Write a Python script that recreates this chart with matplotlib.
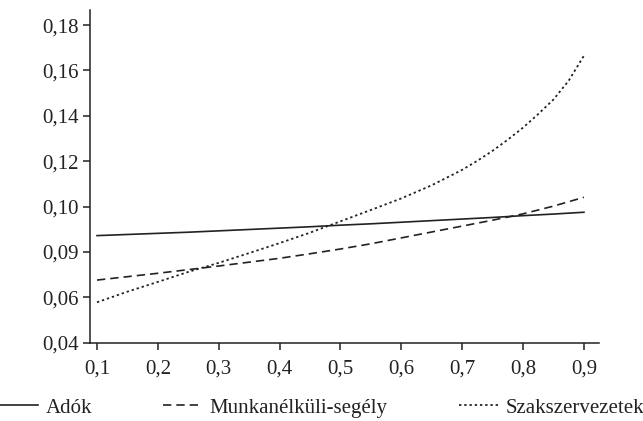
import matplotlib
matplotlib.use('Agg')
import matplotlib.pyplot as plt

plt.rcParams['font.family'] = ['Liberation Serif', 'DejaVu Serif']

# adatok (leolvasva az abrarol)
x = [0.10, 0.15, 0.20, 0.25, 0.30, 0.35, 0.40, 0.45, 0.50,
     0.55, 0.60, 0.65, 0.70, 0.75, 0.80, 0.85, 0.90]
adok = [0.0872, 0.0877, 0.0882, 0.0887, 0.0893, 0.0899, 0.0905, 0.0911, 0.0918,
        0.0924, 0.0931, 0.0938, 0.0945, 0.0952, 0.0960, 0.0967, 0.0975]
munkanelkuli = [0.0676, 0.0691, 0.0706, 0.0722, 0.0738, 0.0755, 0.0772, 0.0792, 0.0813,
                0.0836, 0.0862, 0.0888, 0.0914, 0.0940, 0.0968, 0.1002, 0.1041]
# a szakszervezeti gorbe a vegen erosen gorbul, ezert surubb pontok
x_szak = [0.10, 0.15, 0.20, 0.25, 0.30, 0.35, 0.40, 0.45, 0.50, 0.55, 0.60,
          0.65, 0.70, 0.725, 0.75, 0.775, 0.80, 0.825, 0.85, 0.875, 0.90]
szakszervezet = [0.0578, 0.0625, 0.0668, 0.0712, 0.0752, 0.0795, 0.0839, 0.0885, 0.0935,
                 0.0985, 0.1036, 0.1094, 0.1162, 0.1202, 0.1246, 0.1295, 0.1348,
                 0.1408, 0.1472, 0.1555, 0.1665]

series_labels = ['Adók', 'Munkanélküli-segély', 'Szakszervezetek']
xticks = [0.1, 0.2, 0.3, 0.4, 0.5, 0.6, 0.7, 0.8, 0.9]
xtick_labels = ['0,1', '0,2', '0,3', '0,4', '0,5', '0,6', '0,7', '0,8', '0,9']
yticks = [0.04, 0.06, 0.08, 0.10, 0.12, 0.14, 0.16, 0.18]
ytick_labels = ['0,04', '0,06', '0,09', '0,10', '0,12', '0,14', '0,16', '0,18']

fig = plt.figure(figsize=(6.43, 4.21), dpi=100)
ax = fig.add_axes([0.1395, 0.186, 0.792, 0.79])

col = '#222222'
ax.plot(x, adok, color=col, lw=1.2, linestyle='-', label=series_labels[0])
ax.plot(x, munkanelkuli, color=col, lw=1.2, linestyle=(0, (5, 3)), label=series_labels[1])
ax.plot(x_szak, szakszervezet, color=col, lw=1.3, linestyle=(0, (1.3, 1.6)),
        label=series_labels[2])

ax.set_xlim(0.088, 0.9247)
ax.set_ylim(0.04, 0.1866)
ax.set_xticks(xticks)
ax.set_xticklabels(xtick_labels)
ax.set_yticks(yticks)
ax.set_yticklabels(ytick_labels)

for s in ['top', 'right']:
    ax.spines[s].set_visible(False)
for s in ['left', 'bottom']:
    ax.spines[s].set_linewidth(1.1)
    ax.spines[s].set_color(col)

ax.tick_params(axis='both', direction='out', length=5, width=1.1, colors=col,
               labelsize=15, labelcolor=col)
ax.tick_params(axis='y', pad=3)
ax.tick_params(axis='x', pad=7)

fig.legend(loc='center', bbox_to_anchor=(0.5, 0.031), ncol=3, frameon=False,
           fontsize=15, handlelength=1.9, handletextpad=0.35, columnspacing=3.4,
           labelcolor=col)

fig.savefig('out.png', dpi=100)
